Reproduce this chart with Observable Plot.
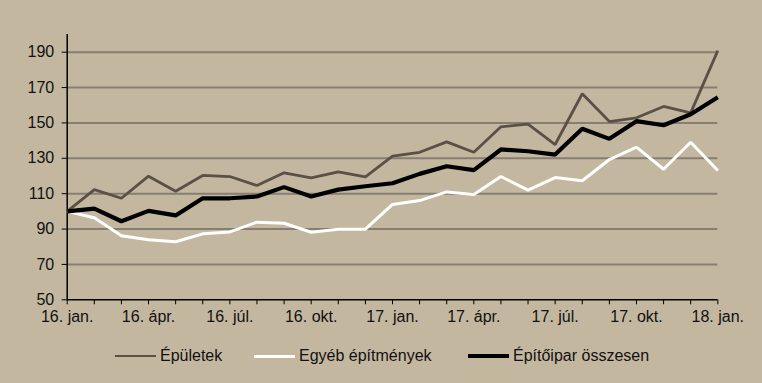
<!DOCTYPE html>
<html>
<head>
<meta charset="utf-8">
<script src="https://cdn.jsdelivr.net/npm/d3@7"></script>
<script src="https://cdn.jsdelivr.net/npm/@observablehq/plot@0.6"></script>
<style>
  html, body { margin: 0; padding: 0; background: #c4b7a0; }
  body { width: 762px; height: 383px; overflow: hidden; font-family: "Liberation Sans", Arial, sans-serif; }
  #legend { position: relative; height: 30px; font-size: 16px; color: #111; }
  .item { position: absolute; top: 6px; height: 20px; line-height: 20px; display: flex; align-items: center; }
  .swatch { display: inline-block; width: 41px; margin-right: 4px; }
</style>
</head>
<body>
<div id="chart"></div>
<div id="legend"></div>
<script>
const tickLabels = ["16. jan.", "16. ápr.", "16. júl.", "16. okt.", "17. jan.", "17. ápr.", "17. júl.", "17. okt.", "18. jan."];
const seriesNames = ["Épületek", "Egyéb építmények", "Építőipar összesen"];
const epuletek = [100, 112.3, 107.4, 119.9, 111.4, 120.3, 119.7, 114.6, 121.8, 119, 122.3, 119.5, 131.2, 133.4, 139.3, 133.4, 147.8, 149.3, 137.8, 166.5, 150.8, 152.9, 159.3, 155.7, 190.9];
const egyeb = [100, 96.4, 86.2, 83.9, 82.8, 87.3, 88.4, 93.9, 93.3, 88.2, 89.9, 89.9, 103.9, 106.1, 111, 109.5, 119.7, 112, 119.1, 117.3, 129.3, 136.3, 123.8, 139.1, 123.1];
const osszesen = [100, 101.6, 94.4, 100.3, 97.7, 107.4, 107.4, 108.4, 113.7, 108.4, 112.3, 114.2, 115.9, 121.2, 125.5, 123.3, 135, 134, 132.1, 146.7, 141, 151, 148.7, 154.9, 164.5];
const yTicks = [50, 70, 90, 110, 130, 150, 170, 190];
const gridTicks = [70, 90, 110, 130, 150, 170, 190];

const colors = ["#5b5046", "#ffffff", "#000000"];
const widths = [2.8, 3, 4.2];
const seriesValues = [epuletek, egyeb, osszesen];

const data = seriesValues.flatMap((vals, s) => vals.map((v, i) => ({series: seriesNames[s], i, v})));
const months = d3.range(epuletek.length);

const chart = Plot.plot({
  width: 762,
  height: 340,
  marginLeft: 66.7,
  marginRight: 44.7,
  marginTop: 34,
  marginBottom: 40.7,
  style: { background: "transparent", fontFamily: "'Liberation Sans', Arial, sans-serif", fontSize: "16px", color: "#111" },
  x: { domain: [0, 24], axis: null },
  y: { domain: [50, 200], axis: null },
  marks: [
    Plot.ruleY(gridTicks, { stroke: "#877e72", strokeWidth: 2 }),
    Plot.axisY({ ticks: yTicks, tickSize: 5, tickPadding: 8, stroke: "#000", fill: "#111", fontSize: 16, label: null }),
    Plot.axisX({ ticks: months, tickSize: 5, tickPadding: 6, stroke: "#000", fill: "#111", fontSize: 16, label: null,
      tickFormat: i => i % 3 === 0 ? tickLabels[i / 3] : "" }),
    Plot.ruleX([0], { y1: 50, y2: 200, stroke: "#000", strokeWidth: 1.5 }),
    Plot.ruleY([50], { stroke: "#000", strokeWidth: 1.5 }),
    ...seriesNames.map((name, s) =>
      Plot.line(data.filter(d => d.series === name), { x: "i", y: "v", stroke: colors[s], strokeWidth: widths[s], strokeLinejoin: "miter", strokeLinecap: "butt" })
    )
  ]
});
document.getElementById("chart").appendChild(chart);

const legend = document.getElementById("legend");
const lefts = [115, 254, 468];
seriesNames.forEach((name, s) => {
  const item = document.createElement("div");
  item.className = "item";
  item.style.left = lefts[s] + "px";
  const sw = document.createElement("span");
  sw.className = "swatch";
  sw.style.height = widths[s] + "px";
  sw.style.background = colors[s];
  item.appendChild(sw);
  item.appendChild(document.createTextNode(name));
  legend.appendChild(item);
});
</script>
</body>
</html>
